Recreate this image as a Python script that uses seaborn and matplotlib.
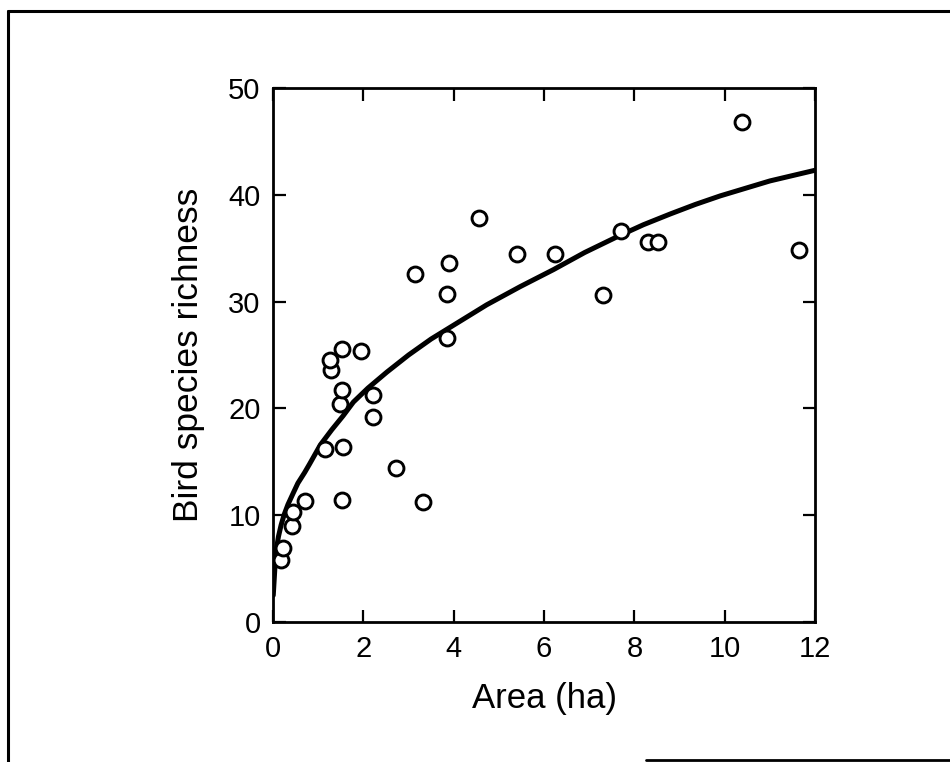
import seaborn as sns
import matplotlib.pyplot as plt
from matplotlib.lines import Line2D

# bird species richness vs area
area = [0.17, 0.21, 0.41, 0.45, 0.71, 1.15, 1.52, 1.56, 1.48, 1.52, 1.28,
        1.26, 1.52, 1.95, 2.22, 2.22, 2.72, 3.31, 3.86, 3.14, 3.85, 3.90,
        4.57, 5.40, 6.24, 7.31, 7.70, 8.30, 8.53, 10.39, 11.64]
richness = [5.8, 6.9, 9.0, 10.3, 11.3, 16.2, 11.4, 16.4, 20.4, 21.7, 23.6,
            24.5, 25.6, 25.4, 21.3, 19.2, 14.4, 11.2, 26.6, 32.6, 30.7, 33.6,
            37.8, 34.5, 34.5, 30.6, 36.6, 35.6, 35.6, 46.8, 34.8]

# fitted curve
curve_area = [0.005, 0.04, 0.07, 0.12, 0.18, 0.25, 0.33, 0.45, 0.55, 0.70,
              0.81, 1.05, 1.30, 1.55, 1.78, 2.10, 2.52, 3.00, 3.50, 4.00,
              4.73, 5.47, 6.21, 6.90, 7.68, 8.20, 8.79, 9.35, 9.90, 10.45,
              11.00, 11.50, 12.00]
curve_rich = [2.5, 5.0, 6.7, 8.0, 9.1, 10.1, 11.0, 12.1, 13.0, 14.0,
              14.8, 16.6, 18.0, 19.3, 20.6, 21.9, 23.4, 25.0, 26.5, 27.8,
              29.7, 31.4, 33.0, 34.6, 36.2, 37.2, 38.2, 39.1, 39.9, 40.6,
              41.3, 41.8, 42.3]

x_ticks = [0, 2, 4, 6, 8, 10, 12]
y_ticks = [0, 10, 20, 30, 40, 50]

sns.set_style("ticks")
plt.rcParams['font.family'] = ['Liberation Sans', 'DejaVu Sans']
plt.rcParams['text.color'] = 'black'
plt.rcParams['axes.labelcolor'] = 'black'
plt.rcParams['xtick.color'] = 'black'
plt.rcParams['ytick.color'] = 'black'
plt.rcParams['axes.edgecolor'] = 'black'

fig = plt.figure(figsize=(9.5, 7.62), dpi=100)
ax = fig.add_axes([0.2874, 0.1837, 0.5706, 0.7008])

sns.lineplot(x=curve_area, y=curve_rich, ax=ax, color="black", linewidth=3.6,
             sort=False, estimator=None, zorder=2)
sns.scatterplot(x=area, y=richness, ax=ax, s=115, color="white",
                edgecolor="black", linewidth=2.1, zorder=3)

ax.set_xlim(0, 12)
ax.set_ylim(0, 50)
ax.set_xticks(x_ticks)
ax.set_yticks(y_ticks)
ax.tick_params(direction="in", length=9, width=1.6, labelsize=21,
               top=True, right=True, pad=9)
for sp in ax.spines.values():
    sp.set_linewidth(2.0)
    sp.set_color("black")
    sp.set_visible(True)

ax.set_xlabel("Area (ha)", fontsize=25, labelpad=14)
ax.set_ylabel("Bird species richness", fontsize=25.5, labelpad=17)

# border of the scanned page
fig.add_artist(Line2D([0.008, 1.0], [0.985, 0.985], color="black", linewidth=2.2))
fig.add_artist(Line2D([0.008, 0.008], [0.0, 0.985], color="black", linewidth=2.2))
fig.add_artist(Line2D([0.68, 1.0], [0.003, 0.003], color="black", linewidth=2.0))

fig.savefig("out.png", dpi=100)
